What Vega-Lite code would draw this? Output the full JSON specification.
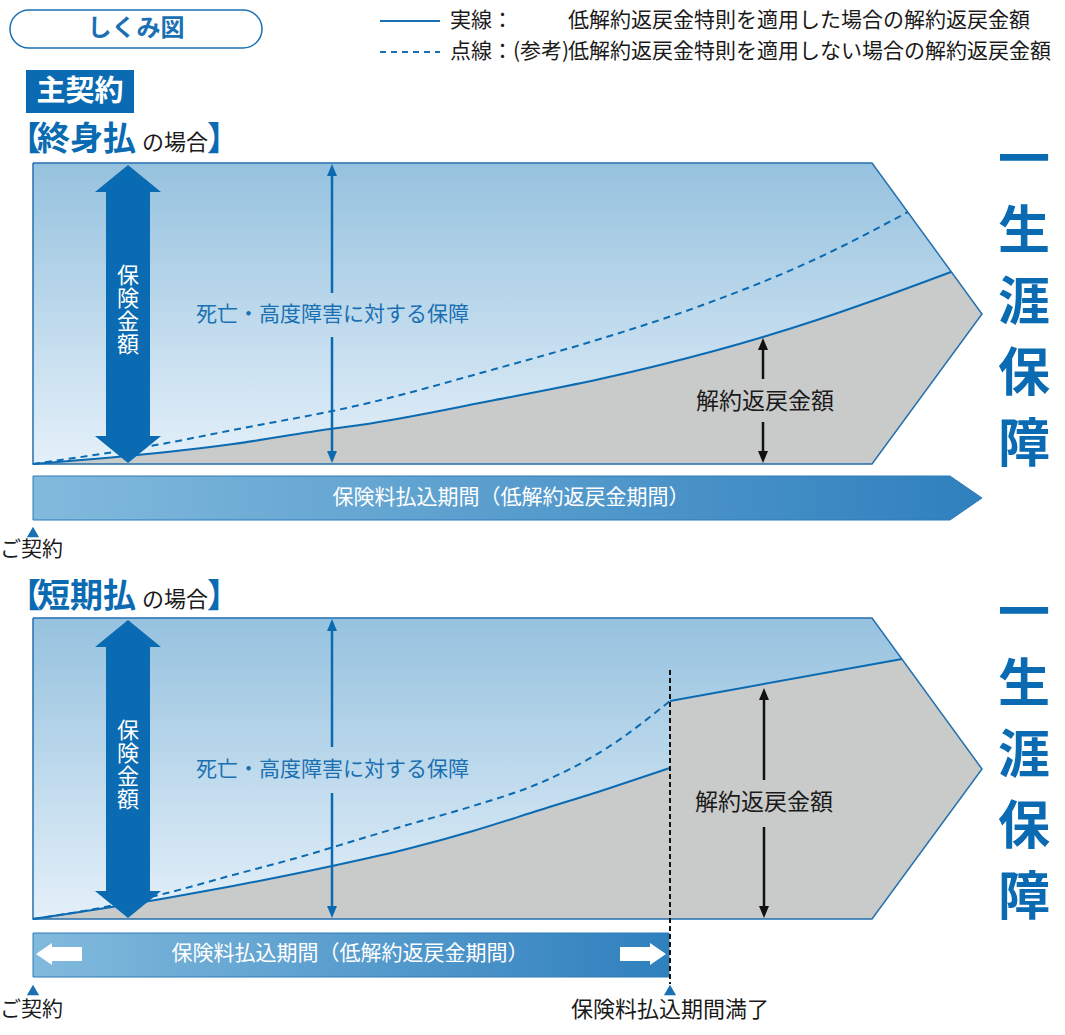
{
  "$schema": "https://vega.github.io/schema/vega-lite/v6.json",
  "width": 1065,
  "height": 1035,
  "autosize": {"type": "fit", "contains": "padding"},
  "padding": 0,
  "background": "white",
  "config": {"view": {"stroke": null}, "font": "Noto Sans CJK JP", "text": {"font": "Noto Sans CJK JP"}},
  "datasets": {
    "panel": [
      {"g": "a", "x": 33, "y": 163, "y2": 464}, {"g": "a", "x": 872, "y": 163, "y2": 464}, {"g": "a", "x": 982, "y": 314, "y2": 314},
      {"g": "b", "x": 33, "y": 618, "y2": 919}, {"g": "b", "x": 872, "y": 618, "y2": 919}, {"g": "b", "x": 982, "y": 769, "y2": 769}
    ],
    "outline": [
      {"g": "a", "o": 0, "x": 33, "y": 163}, {"g": "a", "o": 1, "x": 872, "y": 163}, {"g": "a", "o": 2, "x": 982, "y": 314},
      {"g": "a", "o": 3, "x": 872, "y": 464}, {"g": "a", "o": 4, "x": 33, "y": 464}, {"g": "a", "o": 5, "x": 33, "y": 163},
      {"g": "b", "o": 0, "x": 33, "y": 618}, {"g": "b", "o": 1, "x": 872, "y": 618}, {"g": "b", "o": 2, "x": 982, "y": 769},
      {"g": "b", "o": 3, "x": 872, "y": 919}, {"g": "b", "o": 4, "x": 33, "y": 919}, {"g": "b", "o": 5, "x": 33, "y": 618}
    ],
    "grayCurve": [
      {"g": "a", "x": 33, "y": 464, "y2": 464}, {"g": "a", "x": 167, "y": 452, "y2": 464}, {"g": "a", "x": 233, "y": 444, "y2": 464},
      {"g": "a", "x": 330, "y": 429, "y2": 464}, {"g": "a", "x": 360, "y": 425, "y2": 464}, {"g": "a", "x": 495, "y": 400, "y2": 464},
      {"g": "a", "x": 600, "y": 379, "y2": 464}, {"g": "a", "x": 660, "y": 365, "y2": 464}, {"g": "a", "x": 763, "y": 337, "y2": 464},
      {"g": "a", "x": 820, "y": 319, "y2": 464}, {"g": "a", "x": 872, "y": 301, "y2": 464},
      {"g": "b", "x": 33, "y": 919, "y2": 919}, {"g": "b", "x": 167, "y": 898, "y2": 919}, {"g": "b", "x": 233, "y": 886, "y2": 919},
      {"g": "b", "x": 332, "y": 866, "y2": 919}, {"g": "b", "x": 407, "y": 849, "y2": 919}, {"g": "b", "x": 473, "y": 831, "y2": 919},
      {"g": "b", "x": 540, "y": 810, "y2": 919}, {"g": "b", "x": 607, "y": 789, "y2": 919}, {"g": "b", "x": 670, "y": 768, "y2": 919}
    ],
    "grayPoly": [
      {"g": "a", "x": 872, "y": 301, "y2": 464}, {"g": "a", "x": 951, "y": 272, "y2": 356}, {"g": "a", "x": 982, "y": 314, "y2": 314},
      {"g": "b", "x": 670, "y": 701, "y2": 919}, {"g": "b", "x": 872, "y": 665, "y2": 919}, {"g": "b", "x": 902, "y": 659, "y2": 878},
      {"g": "b", "x": 982, "y": 769, "y2": 769}
    ],
    "solid": [
      {"g": "a", "x": 33, "y": 464}, {"g": "a", "x": 167, "y": 452}, {"g": "a", "x": 233, "y": 444}, {"g": "a", "x": 330, "y": 429},
      {"g": "a", "x": 360, "y": 425}, {"g": "a", "x": 495, "y": 400}, {"g": "a", "x": 600, "y": 379}, {"g": "a", "x": 660, "y": 365},
      {"g": "a", "x": 763, "y": 337}, {"g": "a", "x": 820, "y": 319}, {"g": "a", "x": 872, "y": 301}, {"g": "a", "x": 951, "y": 272},
      {"g": "b", "x": 33, "y": 919}, {"g": "b", "x": 167, "y": 898}, {"g": "b", "x": 233, "y": 886}, {"g": "b", "x": 332, "y": 866},
      {"g": "b", "x": 407, "y": 849}, {"g": "b", "x": 473, "y": 831}, {"g": "b", "x": 540, "y": 810}, {"g": "b", "x": 607, "y": 789},
      {"g": "b", "x": 670, "y": 768}
    ],
    "solidUpper": [{"x": 670, "y": 701}, {"x": 902, "y": 659}],
    "dashed": [
      {"g": "a", "x": 33, "y": 464}, {"g": "a", "x": 167, "y": 443}, {"g": "a", "x": 233, "y": 430}, {"g": "a", "x": 360, "y": 405},
      {"g": "a", "x": 495, "y": 369}, {"g": "a", "x": 600, "y": 339}, {"g": "a", "x": 700, "y": 306}, {"g": "a", "x": 820, "y": 257},
      {"g": "a", "x": 908, "y": 212},
      {"g": "b", "x": 33, "y": 919}, {"g": "b", "x": 100, "y": 908}, {"g": "b", "x": 167, "y": 893}, {"g": "b", "x": 233, "y": 875},
      {"g": "b", "x": 300, "y": 857}, {"g": "b", "x": 360, "y": 839}, {"g": "b", "x": 407, "y": 825}, {"g": "b", "x": 473, "y": 806},
      {"g": "b", "x": 540, "y": 783}, {"g": "b", "x": 607, "y": 748}, {"g": "b", "x": 670, "y": 701}
    ],
    "bigArrow": [{"x": 128, "y": 314}, {"x": 128, "y": 769}],
    "blueRule": [{"x": 332, "y": 170, "y2": 293}, {"x": 332, "y": 337, "y2": 457}, {"x": 332, "y": 625, "y2": 747}, {"x": 332, "y": 793, "y2": 912}],
    "blueUp": [{"x": 332, "y": 164}, {"x": 332, "y": 619}],
    "blueDown": [{"x": 332, "y": 463}, {"x": 332, "y": 918}],
    "blackRule": [{"x": 763, "y": 345, "y2": 379}, {"x": 763, "y": 422, "y2": 456}, {"x": 764, "y": 695, "y2": 780}, {"x": 764, "y": 827, "y2": 911}],
    "blackUp": [{"x": 763, "y": 338}, {"x": 764, "y": 688}],
    "blackDown": [{"x": 763, "y": 463}, {"x": 764, "y": 918}],
    "bars": [
      {"g": "a", "x": 33, "y": 476, "y2": 520}, {"g": "a", "x": 950, "y": 476, "y2": 520}, {"g": "a", "x": 982, "y": 498, "y2": 498},
      {"g": "b", "x": 33, "y": 933, "y2": 977}, {"g": "b", "x": 669, "y": 933, "y2": 977}
    ],
    "whiteR": [{"x": 643, "y": 954}],
    "whiteL": [{"x": 59, "y": 954}],
    "tri": [{"x": 33, "y": 532}, {"x": 33, "y": 990}, {"x": 670, "y": 990}],
    "vdash": [{"x": 670, "y": 670, "y2": 984}],
    "legSolid": [{"x": 380, "x2": 440, "y": 21}],
    "legDash": [{"x": 380, "x2": 440, "y": 52}],
    "boxShikumi": [{"x": 10, "x2": 262, "y": 10, "y2": 48}],
    "boxShu": [{"x": 26, "x2": 134, "y": 70, "y2": 113}],
    "tShogai": [{"x": 1024, "y": 162, "t": "一\n生\n涯\n保\n障"}, {"x": 1024, "y": 615, "t": "一\n生\n涯\n保\n障"}],
    "tHoken": [{"x": 128, "y": 276, "t": "保\n険\n金\n額"}, {"x": 128, "y": 731, "t": "保\n険\n金\n額"}],
    "tShibou": [{"x": 196, "y": 315, "t": "死亡・高度障害に対する保障"}, {"x": 196, "y": 770, "t": "死亡・高度障害に対する保障"}],
    "tKaiyaku": [{"x": 765, "y": 402, "t": "解約返戻金額"}, {"x": 764, "y": 803, "t": "解約返戻金額"}],
    "tBar": [{"x": 511, "y": 498, "t": "保険料払込期間（低解約返戻金期間）"}, {"x": 350, "y": 954, "t": "保険料払込期間（低解約返戻金期間）"}],
    "tBlack": [
      {"x": 0, "y": 550, "t": "ご契約"}, {"x": 0, "y": 1010, "t": "ご契約"},
      {"x": 450, "y": 21, "t": "実線："}, {"x": 568, "y": 21, "t": "低解約返戻金特則を適用した場合の解約返戻金額"},
      {"x": 450, "y": 52, "t": "点線：(参考)"}, {"x": 568, "y": 52, "t": "低解約返戻金特則を適用しない場合の解約返戻金額"}
    ],
    "tManryo": [{"x": 670, "y": 1010, "t": "保険料払込期間満了"}],
    "tTitle": [{"x": 37, "y": 140, "t": "終身払"}, {"x": 37, "y": 597, "t": "短期払"}],
    "tBrL": [{"x": 8, "y": 140, "t": "【"}, {"x": 8, "y": 597, "t": "【"}],
    "tBrR": [{"x": 207, "y": 140, "t": "】"}, {"x": 207, "y": 597, "t": "】"}],
    "tNo": [{"x": 142, "y": 143, "t": "の場合"}, {"x": 142, "y": 600, "t": "の場合"}],
    "tShikumi": [{"x": 136, "y": 29, "t": "しくみ図"}],
    "tShu": [{"x": 80, "y": 92, "t": "主契約"}]
  },
  "encoding": {
    "x": {"field": "x", "type": "quantitative", "scale": {"domain": [0, 1065], "nice": false, "zero": false}, "axis": null},
    "y": {"field": "y", "type": "quantitative", "stack": null, "scale": {"domain": [0, 1035], "nice": false, "zero": false, "reverse": true}, "axis": null}
  },
  "layer": [
    {"data": {"name": "panel"}, "mark": {"type": "area", "opacity": 1, "color": {"gradient": "linear", "x1": 0, "y1": 0, "x2": 0, "y2": 1, "stops": [{"offset": 0, "color": "#96c2df"}, {"offset": 1, "color": "#e4f0f9"}]}}, "encoding": {"y2": {"field": "y2"}, "detail": {"field": "g"}}},
    {"data": {"name": "grayCurve"}, "mark": {"type": "area", "opacity": 1, "interpolate": "monotone", "color": "#c9caca"}, "encoding": {"y2": {"field": "y2"}, "detail": {"field": "g"}}},
    {"data": {"name": "grayPoly"}, "mark": {"type": "area", "opacity": 1, "color": "#c9caca"}, "encoding": {"y2": {"field": "y2"}, "detail": {"field": "g"}}},
    {"data": {"name": "outline"}, "mark": {"type": "line", "opacity": 1, "color": "#2470ae", "strokeWidth": 1.5, "strokeJoin": "miter"}, "encoding": {"order": {"field": "o", "type": "quantitative"}, "detail": {"field": "g"}}},
    {"data": {"name": "dashed"}, "mark": {"type": "line", "opacity": 1, "interpolate": "monotone", "color": "#0a6bb3", "strokeWidth": 2, "strokeDash": [7, 5]}, "encoding": {"detail": {"field": "g"}}},
    {"data": {"name": "solid"}, "mark": {"type": "line", "opacity": 1, "interpolate": "monotone", "color": "#0a6bb3", "strokeWidth": 2}, "encoding": {"detail": {"field": "g"}}},
    {"data": {"name": "solidUpper"}, "mark": {"type": "line", "opacity": 1, "color": "#0a6bb3", "strokeWidth": 2}, "encoding": {}},
    {"data": {"name": "bigArrow"}, "mark": {"type": "point", "filled": true, "opacity": 1, "size": 88804, "color": "#0a6bb3", "strokeWidth": 0, "shape": "M0,-1L0.2215,-0.819L0.1477,-0.819L0.1477,0.819L0.2215,0.819L0,1L-0.2215,0.819L-0.1477,0.819L-0.1477,-0.819L-0.2215,-0.819Z"}},
    {"data": {"name": "blueRule"}, "mark": {"type": "rule", "opacity": 1, "color": "#0a6bb3", "strokeWidth": 2.5}, "encoding": {"y2": {"field": "y2"}}},
    {"data": {"name": "blueUp"}, "mark": {"type": "point", "filled": true, "opacity": 1, "size": 400, "color": "#0a6bb3", "strokeWidth": 0, "shape": "M0,0L-0.5,1.2L0.5,1.2Z"}},
    {"data": {"name": "blueDown"}, "mark": {"type": "point", "filled": true, "opacity": 1, "size": 400, "color": "#0a6bb3", "strokeWidth": 0, "shape": "M0,0L-0.5,-1.2L0.5,-1.2Z"}},
    {"data": {"name": "blackRule"}, "mark": {"type": "rule", "opacity": 1, "color": "#111111", "strokeWidth": 2.5}, "encoding": {"y2": {"field": "y2"}}},
    {"data": {"name": "blackUp"}, "mark": {"type": "point", "filled": true, "opacity": 1, "size": 400, "color": "#111111", "strokeWidth": 0, "shape": "M0,0L-0.5,1.2L0.5,1.2Z"}},
    {"data": {"name": "blackDown"}, "mark": {"type": "point", "filled": true, "opacity": 1, "size": 400, "color": "#111111", "strokeWidth": 0, "shape": "M0,0L-0.5,-1.2L0.5,-1.2Z"}},
    {"data": {"name": "tShogai"}, "mark": {"type": "text", "lineBreak": "\n", "lineHeight": 71, "fontSize": 52, "fontWeight": "bold", "color": "#0a6bb3", "align": "center", "baseline": "middle"}, "encoding": {"text": {"field": "t"}}},
    {"data": {"name": "tHoken"}, "mark": {"type": "text", "lineBreak": "\n", "lineHeight": 23, "fontSize": 22, "color": "white", "align": "center", "baseline": "middle"}, "encoding": {"text": {"field": "t"}}},
    {"data": {"name": "tShibou"}, "mark": {"type": "text", "fontSize": 21, "color": "#1a70b2", "align": "left", "baseline": "middle"}, "encoding": {"text": {"field": "t"}}},
    {"data": {"name": "tKaiyaku"}, "mark": {"type": "text", "fontSize": 23, "color": "#1a1a1a", "align": "center", "baseline": "middle"}, "encoding": {"text": {"field": "t"}}},
    {"data": {"name": "bars"}, "mark": {"type": "area", "opacity": 1, "stroke": "#2f7ab8", "strokeWidth": 1, "color": {"gradient": "linear", "x1": 0, "y1": 0, "x2": 1, "y2": 0, "stops": [{"offset": 0, "color": "#82badd"}, {"offset": 1, "color": "#2f80be"}]}}, "encoding": {"y2": {"field": "y2"}, "detail": {"field": "g"}}},
    {"data": {"name": "whiteR"}, "mark": {"type": "point", "filled": true, "opacity": 1, "size": 2116, "color": "white", "strokeWidth": 0, "shape": "M1,0L0.304,-0.478L0.304,-0.304L-1,-0.304L-1,0.304L0.304,0.304L0.304,0.478Z"}},
    {"data": {"name": "whiteL"}, "mark": {"type": "point", "filled": true, "opacity": 1, "size": 2116, "color": "white", "strokeWidth": 0, "shape": "M-1,0L-0.304,-0.478L-0.304,-0.304L1,-0.304L1,0.304L-0.304,0.304L-0.304,0.478Z"}},
    {"data": {"name": "tBar"}, "mark": {"type": "text", "fontSize": 21, "color": "white", "align": "center", "baseline": "middle"}, "encoding": {"text": {"field": "t"}}},
    {"data": {"name": "tri"}, "mark": {"type": "point", "filled": true, "opacity": 1, "size": 150, "color": "#1a70b2", "strokeWidth": 0, "shape": "triangle-up"}},
    {"data": {"name": "vdash"}, "mark": {"type": "rule", "opacity": 1, "color": "#111111", "strokeWidth": 2, "strokeDash": [5, 3]}, "encoding": {"y2": {"field": "y2"}}},
    {"data": {"name": "legSolid"}, "mark": {"type": "rule", "opacity": 1, "color": "#1a70b2", "strokeWidth": 2}, "encoding": {"x2": {"field": "x2"}}},
    {"data": {"name": "legDash"}, "mark": {"type": "rule", "opacity": 1, "color": "#1a70b2", "strokeWidth": 2, "strokeDash": [6, 5]}, "encoding": {"x2": {"field": "x2"}}},
    {"data": {"name": "tBlack"}, "mark": {"type": "text", "fontSize": 21, "color": "#1a1a1a", "align": "left", "baseline": "middle"}, "encoding": {"text": {"field": "t"}}},
    {"data": {"name": "tManryo"}, "mark": {"type": "text", "fontSize": 22, "color": "#1a1a1a", "align": "center", "baseline": "middle"}, "encoding": {"text": {"field": "t"}}},
    {"data": {"name": "boxShikumi"}, "mark": {"type": "rect", "opacity": 1, "fill": "white", "stroke": "#1a70b2", "strokeWidth": 1.5, "cornerRadius": 19}, "encoding": {"x2": {"field": "x2"}, "y2": {"field": "y2"}}},
    {"data": {"name": "boxShu"}, "mark": {"type": "rect", "opacity": 1, "color": "#0a6bb3"}, "encoding": {"x2": {"field": "x2"}, "y2": {"field": "y2"}}},
    {"data": {"name": "tShikumi"}, "mark": {"type": "text", "fontSize": 24, "fontWeight": "bold", "color": "#1a70b2", "align": "center", "baseline": "middle"}, "encoding": {"text": {"field": "t"}}},
    {"data": {"name": "tShu"}, "mark": {"type": "text", "fontSize": 29, "fontWeight": "bold", "color": "white", "align": "center", "baseline": "middle"}, "encoding": {"text": {"field": "t"}}},
    {"data": {"name": "tTitle"}, "mark": {"type": "text", "fontSize": 33, "fontWeight": "bold", "color": "#0a6bb3", "align": "left", "baseline": "middle"}, "encoding": {"text": {"field": "t"}}},
    {"data": {"name": "tBrL"}, "mark": {"type": "text", "fontSize": 33, "fontWeight": "bold", "color": "#0a6bb3", "align": "left", "baseline": "middle"}, "encoding": {"text": {"field": "t"}}},
    {"data": {"name": "tBrR"}, "mark": {"type": "text", "fontSize": 33, "fontWeight": "bold", "color": "#0a6bb3", "align": "left", "baseline": "middle"}, "encoding": {"text": {"field": "t"}}},
    {"data": {"name": "tNo"}, "mark": {"type": "text", "fontSize": 22, "color": "#1a1a1a", "align": "left", "baseline": "middle"}, "encoding": {"text": {"field": "t"}}}
  ]
}
